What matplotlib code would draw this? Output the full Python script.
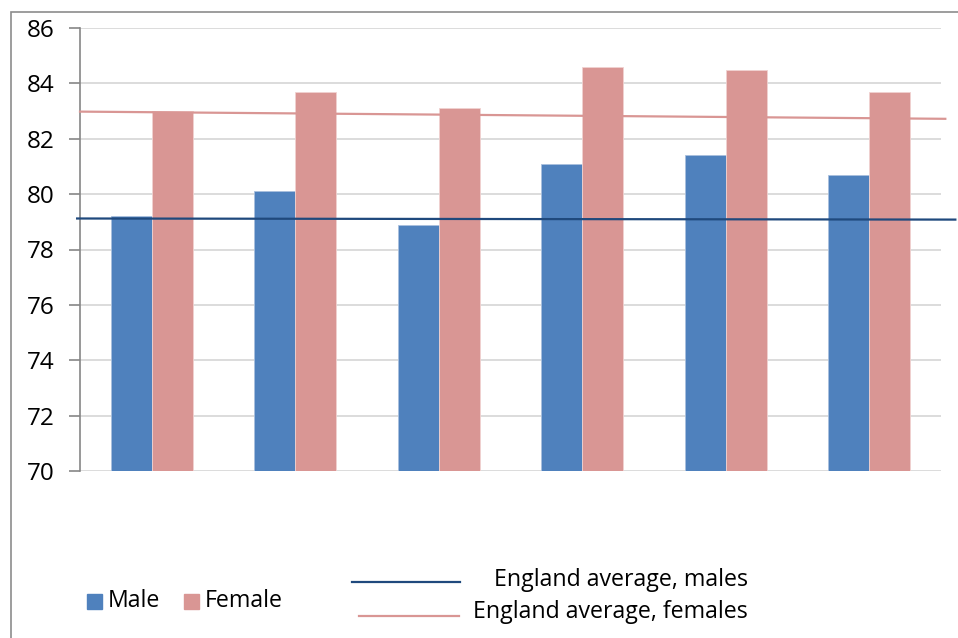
import matplotlib
matplotlib.use("Agg")
import matplotlib.pyplot as plt
from matplotlib.lines import Line2D
from matplotlib.patches import Rectangle
import numpy as np

plt.rcParams['font.family'] = ['Open Sans', 'DejaVu Sans']

# Life expectancy by area (years)
areas = ["Area 1", "Area 2", "Area 3", "Area 4", "Area 5", "Area 6"]
male = [79.2, 80.1, 78.9, 81.1, 81.4, 80.7]
female = [83.0, 83.7, 83.1, 84.6, 84.5, 83.7]

# England averages (start and end of each reference line)
eng_male = [79.12, 79.08]
eng_female = [82.98, 82.72]

yticks = [70, 72, 74, 76, 78, 80, 82, 84, 86]

blue = "#4F81BD"
pink = "#D99694"
navy = "#1F497D"

fig = plt.figure(figsize=(9.58, 6.38), dpi=100)
fig.patch.set_facecolor("white")

# outer chart frame
fig.patches.append(Rectangle((11 / 958, -0.05), 1.2, 1 - 12 / 638 + 0.05,
                             transform=fig.transFigure, fill=False,
                             edgecolor="#8c8c8c", linewidth=1.2))

ax = fig.add_axes([80 / 958, 1 - 471 / 638, (941 - 80) / 958, (471 - 28) / 638])

x = np.arange(len(areas))
w = 0.2857
ax.bar(x - w / 2, male, w, color=blue, edgecolor="#a9c0de",
       linewidth=0.6, zorder=2)
ax.bar(x + w / 2, female, w, color=pink, edgecolor="#f0d2d1",
       linewidth=0.6, zorder=2)

ax.plot([-0.52, 5.6], eng_male, color=navy, linewidth=1.6, zorder=3,
        clip_on=False)
ax.plot([-0.5, 5.53], eng_female, color=pink, linewidth=1.6, zorder=3,
        clip_on=False)

ax.set_xlim(-0.5, 5.5)
ax.set_ylim(70, 86)
ax.set_yticks(yticks)
ax.set_yticklabels([str(t) for t in yticks], fontsize=17.5)
ax.set_xticks([])
ax.yaxis.grid(True, color="#d9d9d9", linewidth=1.3, zorder=0)
ax.set_axisbelow(True)
for s in ["top", "right", "bottom"]:
    ax.spines[s].set_visible(False)
ax.spines["left"].set_color("#868686")
ax.spines["left"].set_linewidth(1.2)
ax.tick_params(axis="y", length=8, width=1.2, color="#868686", pad=10)

# legend drawn along the bottom of the frame
def fx(px):
    return px / 958

def fy(py):
    return 1 - py / 638

lfs = 16.7
fig.patches.append(Rectangle((fx(87), fy(609)), fx(15), 15 / 638,
                             transform=fig.transFigure, color=blue))
fig.text(fx(108), fy(601), "Male", fontsize=lfs, va="center", ha="left")
fig.patches.append(Rectangle((fx(184), fy(609)), fx(15), 15 / 638,
                             transform=fig.transFigure, color=pink))
fig.text(fx(205), fy(601), "Female", fontsize=lfs, va="center", ha="left")

fig.lines.append(Line2D([fx(352), fx(460)], [fy(582), fy(582)],
                        transform=fig.transFigure, color=navy, linewidth=1.6))
fig.text(fx(748), fy(580), "England average, males", fontsize=lfs,
         va="center", ha="right")
fig.lines.append(Line2D([fx(359), fx(459)], [fy(616), fy(616)],
                        transform=fig.transFigure, color=pink, linewidth=1.6))
fig.text(fx(748), fy(612), "England average, females", fontsize=lfs,
         va="center", ha="right")

fig.savefig("out.png", dpi=100, facecolor="white")
